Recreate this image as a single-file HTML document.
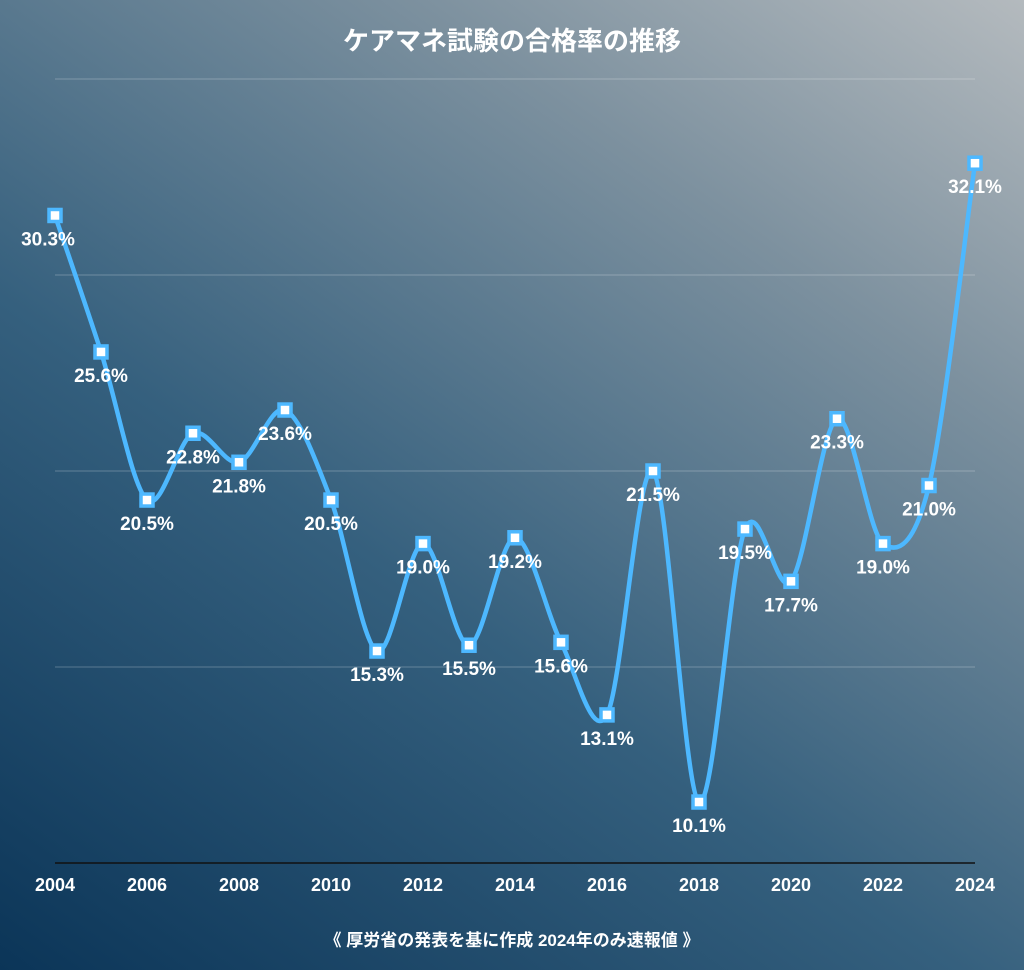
<!DOCTYPE html>
<html><head><meta charset="utf-8"><style>
html,body{margin:0;padding:0}
body{width:1024px;height:970px;overflow:hidden;background:linear-gradient(35deg,#0b3558 0%,#35607e 40%,#7d919f 75%,#b4babe 100%);font-family:"Liberation Sans","Noto Sans CJK JP",sans-serif}
svg{position:absolute;left:0;top:0}
</style></head><body>
<svg width="1024" height="970">
<text x="512" y="50" text-anchor="middle" fill="#fff" font-size="26" font-weight="bold" font-family="Liberation Sans, Noto Sans CJK JP, sans-serif">ケアマネ試験の合格率の推移</text>
<g id="grid"></g>
<g id="xt"></g>
<path id="line" fill="none" stroke="#4db8ff" stroke-width="4.5"></path>
<g id="pts"></g>
<text x="512" y="946" text-anchor="middle" fill="#fff" font-size="17" font-weight="bold" font-family="Liberation Sans, Noto Sans CJK JP, sans-serif">《 厚労省の発表を基に作成 2024年のみ速報値 》</text>
</svg>
<script>
const years=[2004,2005,2006,2007,2008,2009,2010,2011,2012,2013,2014,2015,2016,2017,2018,2019,2020,2021,2022,2023,2024];
const rates=[30.3,25.6,20.5,22.8,21.8,23.6,20.5,15.3,19.0,15.5,19.2,15.6,13.1,21.5,10.1,19.5,17.7,23.3,19.0,21.0,32.1];
const gridVals=[8,14.75,21.5,28.25,35];
const xTicks=[2004,2006,2008,2010,2012,2014,2016,2018,2020,2022,2024];
const NS="http://www.w3.org/2000/svg";
const x=v=>55+(v-2004)*46, y=v=>863-(v-8)*(784/27);
const grid=document.getElementById('grid');
gridVals.forEach((g,i)=>{const l=document.createElementNS(NS,'line');


l.setAttribute('x1',55);l.setAttribute('x2',975);l.setAttribute('y1',y(g));l.setAttribute('y2',y(g));
l.setAttribute('stroke',i==0?'#111':'rgba(255,255,255,0.25)');l.setAttribute('stroke-width',i==0?1.5:1);grid.appendChild(l);});
const xt=document.getElementById('xt');
xTicks.forEach(t=>{const e=document.createElementNS(NS,'text');


e.setAttribute('x',x(t));e.setAttribute('y',891);e.setAttribute('text-anchor','middle');e.setAttribute('fill','#fff');e.setAttribute('font-size','18');e.setAttribute('font-weight','bold');e.textContent=t;xt.appendChild(e);});
const P=years.map((yr,i)=>[x(yr),y(rates[i])]);
let d=`M${P[0][0]},${P[0][1]}`;
for(let i=0;i<P.length-1;i++){const p0=P[i-1]||P[i],p1=P[i],p2=P[i+1],p3=P[i+2]||p2;const k=0.16;
d+=` C${p1[0]+(p2[0]-p0[0])*k},${p1[1]+(p2[1]-p0[1])*k} ${p2[0]-(p3[0]-p1[0])*k},${p2[1]-(p3[1]-p1[1])*k} ${p2[0]},${p2[1]}`;}
document.getElementById('line').setAttribute('d',d);
const pts=document.getElementById('pts');
P.forEach((p,i)=>{const r=document.createElementNS(NS,'rect');


r.setAttribute('x',p[0]-6);r.setAttribute('y',p[1]-6);r.setAttribute('width',12);r.setAttribute('height',12);r.setAttribute('fill','#fff');r.setAttribute('stroke','#4db8ff');r.setAttribute('stroke-width',3.5);pts.appendChild(r);
const t=document.createElementNS(NS,'text');


t.setAttribute('x',i===0?p[0]-7:p[0]);t.setAttribute('y',p[1]+30);t.setAttribute('text-anchor','middle');t.setAttribute('fill','#fff');t.setAttribute('font-size','19');t.setAttribute('font-weight','bold');t.textContent=rates[i].toFixed(1)+'%';pts.appendChild(t);});
</script>
</body></html>
